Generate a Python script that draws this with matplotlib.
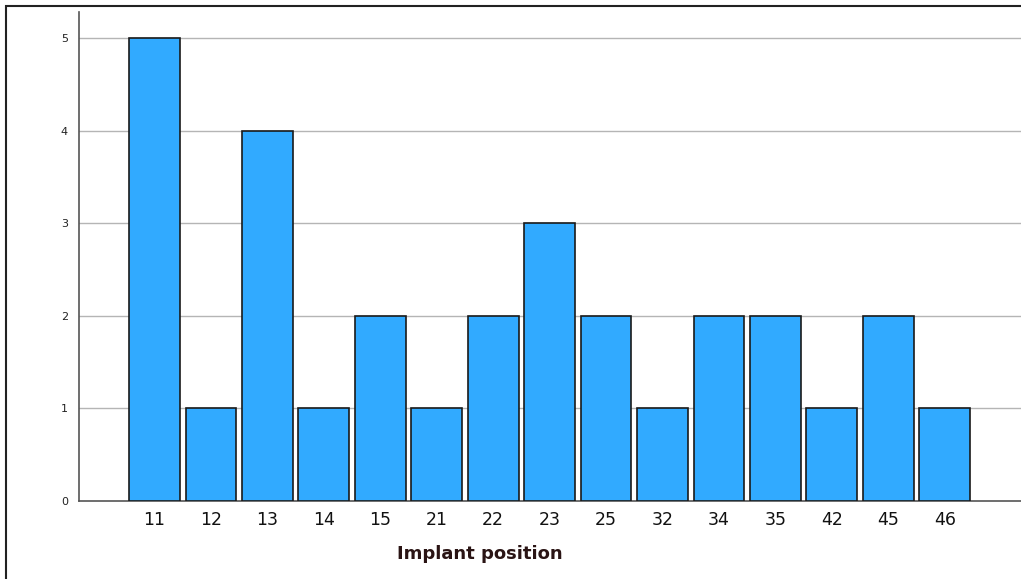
import matplotlib
matplotlib.use("Agg")
import matplotlib.pyplot as plt
from matplotlib.patches import Rectangle

categories = ["11", "12", "13", "14", "15", "21", "22", "23", "25", "32", "34", "35", "42", "45", "46"]
counts = [5, 1, 4, 1, 2, 1, 2, 3, 2, 1, 2, 2, 1, 2, 1]
yticks = [0, 1, 2, 3, 4, 5]

W, H = 1021, 579
fig = plt.figure(figsize=(W / 100, H / 100), dpi=100)
ax = fig.add_axes([79 / W, 1 - 501 / H, (1021 - 79) / W, (501 - 12) / H])

x = list(range(len(categories)))
ax.bar(x, counts, width=0.9, color="#31aaff", edgecolor="#1a1a1a", linewidth=1.2, zorder=3)

ax.set_xlim(-1.337, 15.35)
ax.set_ylim(0, 5.28)
ax.set_yticks(yticks)
ax.set_yticklabels([str(t) for t in yticks], fontsize=8, color="#222222")
ax.set_xticks(x)
ax.set_xticklabels(categories, fontsize=12.5, color="#111111")
ax.tick_params(axis="both", length=0)
ax.tick_params(axis="y", pad=8)
ax.tick_params(axis="x", pad=7)

for t in yticks[1:]:
    ax.axhline(t, color="#b5b5b5", linewidth=1.0, zorder=1)

for s in ["top", "right"]:
    ax.spines[s].set_visible(False)
for s in ["left", "bottom"]:
    ax.spines[s].set_color("#555555")
    ax.spines[s].set_linewidth(1.2)

ax.set_xlabel("Implant position", fontsize=13, fontweight="bold", color="#2a1414",
              family="DejaVu Sans")
ax.xaxis.set_label_coords((480 - 79) / (1021 - 79), -(554 - 501) / (501 - 12), transform=ax.transAxes)
ax.xaxis.label.set_va("center")

fig.patches.append(Rectangle((6 / W, -0.1), 1.2, 1 - 5.5 / H + 0.1, transform=fig.transFigure,
                             fill=False, edgecolor="#222222", linewidth=1.5))

fig.savefig("out.png", dpi=100)
